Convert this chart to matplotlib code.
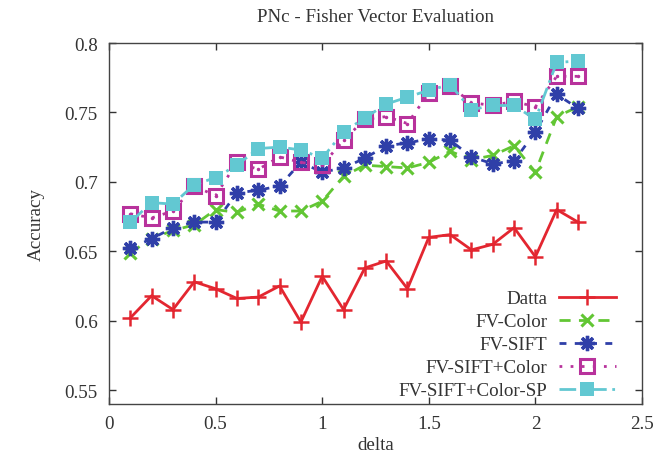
import matplotlib
matplotlib.use("Agg")
import matplotlib.pyplot as plt

delta = [0.1, 0.2, 0.3, 0.4, 0.5, 0.6, 0.7, 0.8, 0.9, 1.0, 1.1,
         1.2, 1.3, 1.4, 1.5, 1.6, 1.7, 1.8, 1.9, 2.0, 2.1, 2.2]
datta = [0.602, 0.618, 0.608, 0.628, 0.623, 0.616, 0.617, 0.625, 0.599, 0.632, 0.608,
         0.638, 0.643, 0.623, 0.660, 0.662, 0.651, 0.655, 0.667, 0.646, 0.680, 0.671]
fv_color = [0.649, 0.659, 0.665, 0.669, 0.680, 0.678, 0.684, 0.679, 0.679, 0.686, 0.704,
            0.712, 0.711, 0.710, 0.714, 0.722, 0.716, 0.719, 0.726, 0.707, 0.747, 0.754]
fv_sift = [0.652, 0.659, 0.667, 0.671, 0.671, 0.692, 0.694, 0.697, 0.714, 0.707, 0.710,
           0.717, 0.726, 0.728, 0.731, 0.730, 0.718, 0.713, 0.715, 0.736, 0.763, 0.753]
fv_sift_color = [0.677, 0.674, 0.679, 0.697, 0.690, 0.714, 0.709, 0.718, 0.714, 0.712, 0.730,
                 0.745, 0.747, 0.742, 0.764, 0.769, 0.757, 0.755, 0.758, 0.754, 0.776, 0.776]
fv_sift_color_sp = [0.671, 0.685, 0.684, 0.698, 0.703, 0.712, 0.724, 0.725, 0.723, 0.717, 0.736,
                    0.746, 0.756, 0.761, 0.766, 0.770, 0.752, 0.755, 0.755, 0.745, 0.786, 0.787]
labels = ["Datta", "FV-Color", "FV-SIFT", "FV-SIFT+Color", "FV-SIFT+Color-SP"]
xticks = [0, 0.5, 1, 1.5, 2, 2.5]
yticks = [0.55, 0.6, 0.65, 0.7, 0.75, 0.8]

plt.rcParams['font.family'] = ['Liberation Serif', 'DejaVu Serif']

fig = plt.figure(figsize=(6.58, 4.6), dpi=100)
ax = fig.add_axes([109/658, 55/460, 533/658, 361/460])

red = '#e32630'
green = '#62c634'
blue = '#2f3fa8'
mag = '#b8329c'
cyan = '#62c8d2'
txt = '#333333'
fs = 13.7

ax.plot(delta, datta, color=red, lw=2.0, ls='-', marker='+', ms=11, mew=1.8, label=labels[0])
ax.plot(delta, fv_color, color=green, lw=2.0, ls=(0, (4, 3)), marker='x', ms=9, mew=2.2, label=labels[1])
ax.plot(delta, fv_sift, color=blue, lw=2.0, ls=(0, (2.5, 3)), marker=(8, 2, 0), ms=11, mew=2.4, label=labels[2])
ax.plot(delta, fv_sift_color, color=mag, lw=2.0, ls=(0, (1, 3)), marker='s', ms=10, mew=2.2,
        mfc='none', label=labels[3])
ax.plot(delta, fv_sift_color, ls='none', marker='.', ms=3, color=mag)
ax.plot(delta, fv_sift_color_sp, color=cyan, lw=2.0, ls=(0, (6, 2, 1, 2)), marker='s', ms=9.5, mew=0,
        label=labels[4])

ax.set_xlim(0, 2.5)
ax.set_ylim(0.54, 0.8)
ax.set_xticks(xticks)
ax.set_xticklabels([f"{t:g}" for t in xticks])
ax.set_yticks(yticks)
ax.set_yticklabels([f"{t:g}" for t in yticks])
ax.tick_params(direction='in', top=True, right=True, length=5, width=1, labelsize=fs, colors=txt, pad=8)
for s in ax.spines.values():
    s.set_color('#444444')
    s.set_linewidth(1.0)

ax.set_xlabel("delta", fontsize=fs, color=txt, labelpad=3)
ax.set_ylabel("Accuracy", fontsize=fs, color=txt, labelpad=14)
ax.set_title("PNc - Fisher Vector Evaluation", fontsize=fs, color=txt, pad=16)

leg = ax.legend(loc='lower right', bbox_to_anchor=(0.976, -0.024), frameon=False, markerfirst=False,
                fontsize=fs, handlelength=3.0, labelspacing=0.3, handletextpad=0.6, borderpad=0.2)
for t in leg.get_texts():
    t.set_color(txt)

fig.savefig("out.png", dpi=100)
